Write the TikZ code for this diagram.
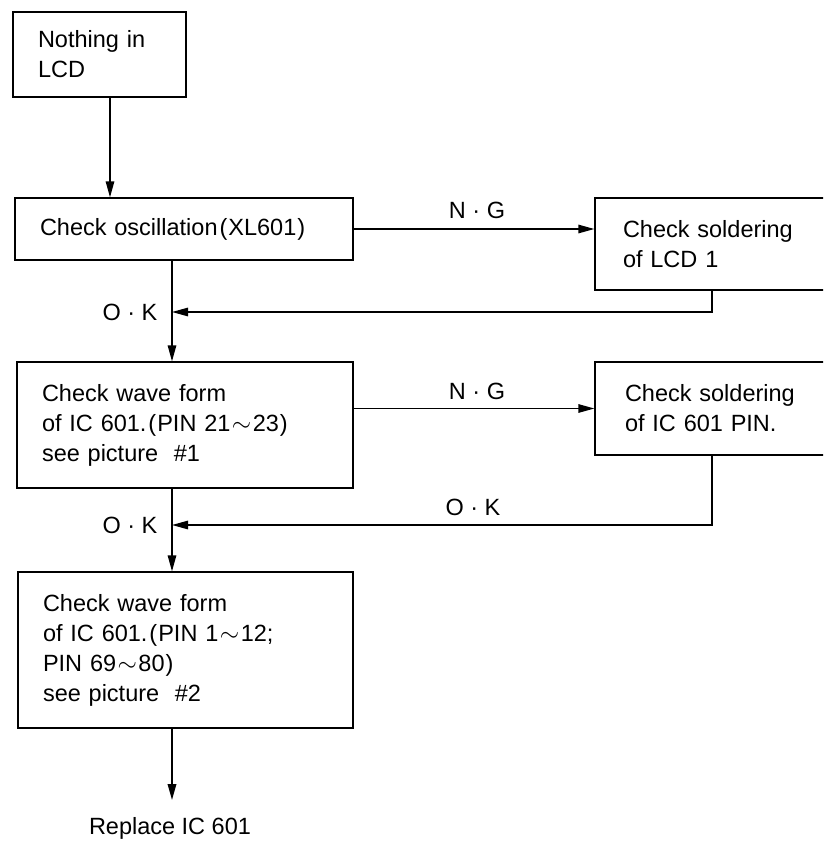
\documentclass[tikz,border=0pt]{standalone}
\usepackage{fontspec}
\setmainfont{Liberation Sans}
\usetikzlibrary{arrows.meta}
\newcommand\fwl{\kern2pt(\kern1pt}
\newcommand\fwr{\kern1pt)}
\newcommand\tld{\kern1.5pt$\sim$\kern1.5pt}
\begin{document}
\begin{tikzpicture}[x=1pt,y=-1pt,
  every node/.style={font=\fontsize{23.5}{30}\selectfont},
  box/.style={draw, line width=1.3pt, rectangle, inner xsep=25pt, inner ysep=0pt, align=left},
  conn/.style={line width=1.3pt},
  arr/.style={conn, -{Triangle[length=16pt,width=8.5pt]}},
  lbl/.style={inner sep=0pt}]
\useasboundingbox (0,0) rectangle (823,841);
\clip (0,0) rectangle (823,841);

\node[box, text width=123pt, minimum height=85pt] (b1) at (99.5,54.5) {Nothing in\\LCD};
\node[box, text width=288pt, minimum height=62pt] (b2) at (184,229) {\mbox{Check oscillation\fwl XL601\fwr}};
\node[box, inner xsep=28pt, text width=189pt, minimum height=92pt] (b3) at (717.5,244) {Check soldering\\of LCD 1};
\node[box, text width=286pt, minimum height=126pt] (b4) at (185,425) {Check wave form\\of IC 601.\fwl PIN 21\tld 23\fwr\\see picture \ \#1};
\node[box, inner xsep=30pt, text width=185pt, minimum height=93pt] (b5) at (717.5,408.5) {Check soldering\\of IC 601 PIN.};
\node[box, text width=285pt, minimum height=156pt] (b6) at (185.5,650) {Check wave form\\of IC 601.\fwl PIN 1\tld 12;\\PIN 69\tld 80\fwr\\see picture \ \#2};
\node[lbl] (r) at (170,828) {Replace IC 601};

\node[lbl] (ng1) at (477,210) {N · G};
\node[lbl] (ok1) at (130,312) {O · K};
\node[lbl] (ng2) at (477,391) {N · G};
\node[lbl] (ok2) at (473,507) {O · K};
\node[lbl] (ok3) at (130,525) {O · K};

\coordinate (xa) at (110,0);
\coordinate (xm) at (172,0);
\coordinate (xr) at (712,0);
\coordinate (m1) at (172,312);
\coordinate (m2) at (172,525);
\coordinate (t) at (172,800);

\draw[arr] (b1.south -| xa) -- (b2.north -| xa);
\draw[arr] (b2.east) -- (b2.east -| b3.west);
\draw[arr] (b3.south -| xr) |- (m1);
\draw[arr] (b2.south -| xm) -- (b4.north -| xm);
\draw[arr] (b4.east |- b5.west) -- (b5.west);
\draw[arr] (b5.south -| xr) |- (m2);
\draw[arr] (b4.south -| xm) -- (b6.north -| xm);
\draw[arr, line width=1.8pt] (b6.south -| xm) -- (t);
\end{tikzpicture}
\end{document}
